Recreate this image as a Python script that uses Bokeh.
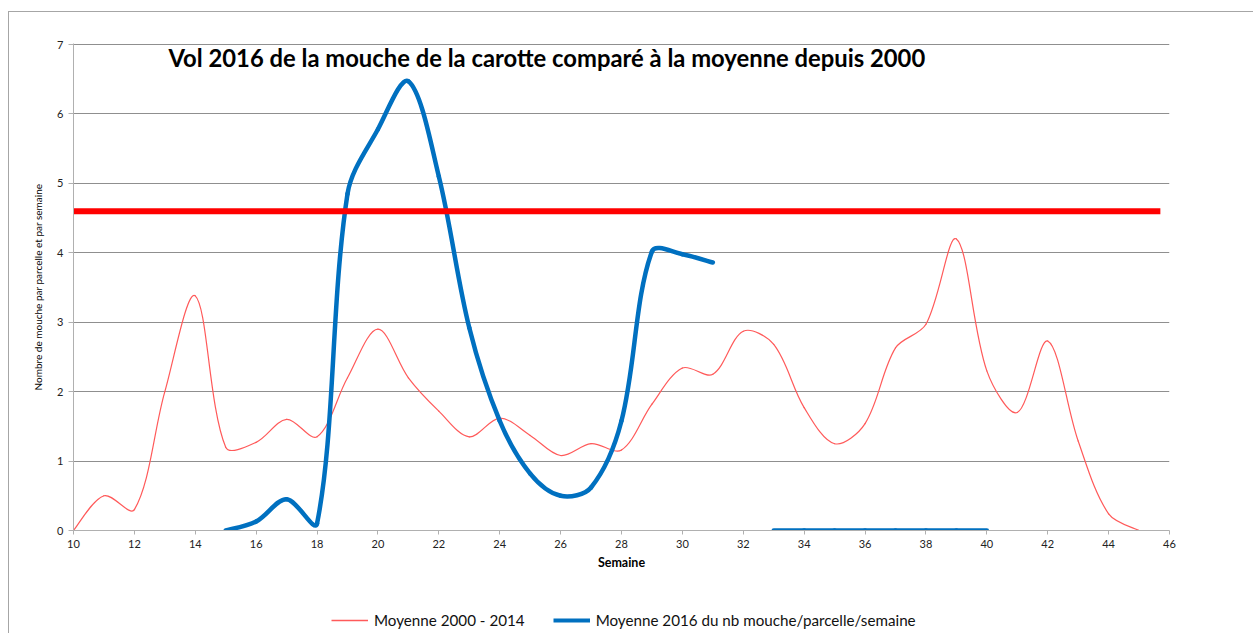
from bokeh.plotting import figure
from bokeh.layouts import column
from bokeh.models import Range1d, FixedTicker, Legend, LegendItem, Label, ColumnDataSource
from bokeh.embed import file_html
from bokeh.resources import INLINE
import math

# ---------------- data ----------------
TITLE = "Vol 2016 de la mouche de la carotte comparé à la moyenne depuis 2000"
X_LABEL = "Semaine"
Y_LABEL = "Nombre de mouche par parcelle et par semaine"
LABEL_AVG = "Moyenne 2000 - 2014"
LABEL_2016 = "Moyenne 2016 du nb mouche/parcelle/semaine"

avg_weeks = list(range(10, 46))
avg_values = [0.0, 0.5, 0.3, 2.0, 3.38, 1.2, 1.27, 1.6, 1.35, 2.2,
              2.9, 2.2, 1.72, 1.35, 1.62, 1.37, 1.08, 1.25, 1.16, 1.82,
              2.34, 2.25, 2.87, 2.68, 1.77, 1.25, 1.54, 2.63, 2.97, 4.2,
              2.3, 1.7, 2.73, 1.29, 0.24, 0.0]

y2016_weeks_a = list(range(15, 32))
y2016_values_a = [0.0, 0.13, 0.45, 0.1, 4.85, 5.78, 6.47, 5.1, 2.92, 1.58,
                  0.82, 0.5, 0.62, 1.58, 4.02, 3.98, 3.86]
y2016_weeks_b = list(range(33, 41))
y2016_values_b = [0, 0, 0, 0, 0, 0, 0, 0]

threshold_value = 4.6
threshold_start = 10
threshold_end = 45.7

x_ticks = list(range(10, 47, 2))
y_ticks = list(range(0, 8))

RED_THIN = "#FF5A5A"
BLUE = "#0070C0"
RED = "#FF0000"
FONT = "Lato"

# approximate screen scale, used only to weight the curve smoothing
PX_PER_X = 30.44
PX_PER_Y = 69.6


def smooth_segments(xs, ys):
    """Cubic Bezier segments, tangents weighted by screen chord lengths (Excel-like smoothing)."""
    n = len(xs)

    def dist(i, j):
        return math.hypot((xs[j] - xs[i]) * PX_PER_X, (ys[j] - ys[i]) * PX_PER_Y)

    before, after = [], []
    for i in range(n):
        a = max(i - 1, 0)
        b = min(i + 1, n - 1)
        tx, ty = xs[b] - xs[a], ys[b] - ys[a]
        d1 = dist(a, i) if i > 0 else 0.0
        d2 = dist(i, b) if i < n - 1 else 0.0
        if i == 0 or i == n - 1:
            f1 = f2 = 1.0 / 6.0
        else:
            s = d1 + d2 if d1 + d2 > 0 else 1.0
            f1 = d1 / s / 3.0
            f2 = d2 / s / 3.0
        before.append((xs[i] - tx * f1, ys[i] - ty * f1))
        after.append((xs[i] + tx * f2, ys[i] + ty * f2))

    d = dict(x0=[], y0=[], x1=[], y1=[], cx0=[], cy0=[], cx1=[], cy1=[])
    for i in range(n - 1):
        d["x0"].append(xs[i]); d["y0"].append(ys[i])
        d["x1"].append(xs[i + 1]); d["y1"].append(ys[i + 1])
        d["cx0"].append(after[i][0]); d["cy0"].append(after[i][1])
        d["cx1"].append(before[i + 1][0]); d["cy1"].append(before[i + 1][1])
    return ColumnDataSource(d)


p = figure(width=1244, height=578, output_backend="svg", toolbar_location=None,
           x_range=Range1d(10, 46), y_range=Range1d(0, 7.015),
           min_border_left=64, min_border_right=84, min_border_top=31,
           min_border_bottom=60)
p.outline_line_color = None
p.background_fill_color = "white"
p.border_fill_color = "white"

# grid
p.xgrid.grid_line_color = None
p.ygrid.ticker = FixedTicker(ticks=y_ticks)
p.ygrid.grid_line_color = "#8f8f8f"
p.ygrid.grid_line_width = 1

# axes
p.xaxis.ticker = FixedTicker(ticks=x_ticks)
p.yaxis.ticker = FixedTicker(ticks=y_ticks)
for ax in (p.xaxis[0], p.yaxis[0]):
    ax.axis_line_color = "#b0b0b0"
    ax.major_tick_line_color = "#b0b0b0"
    ax.minor_tick_line_color = None
    ax.major_tick_in = 0
    ax.major_label_text_font = FONT
    ax.major_label_text_font_size = "11px"
    ax.major_label_text_color = "#222222"
    ax.axis_label_text_font = FONT
    ax.axis_label_text_color = "#000000"
p.xaxis.major_tick_out = 4
p.yaxis.major_tick_out = 5
p.xaxis.major_label_standoff = 5
p.yaxis.major_label_standoff = 5
p.xaxis.axis_label = X_LABEL
p.xaxis.axis_label_text_font_size = "12.5px"
p.xaxis.axis_label_text_font_style = "bold"
p.xaxis.axis_label_standoff = 4
p.yaxis.axis_label = Y_LABEL
p.yaxis.axis_label_text_font_size = "10px"
p.yaxis.axis_label_text_font_style = "normal"
p.yaxis.axis_label_standoff = 10

# series
bez = dict(x0="x0", y0="y0", x1="x1", y1="y1", cx0="cx0", cy0="cy0", cx1="cx1", cy1="cy1")
p.bezier(source=smooth_segments(avg_weeks, avg_values),
         line_color=RED_THIN, line_width=1.2, line_cap="round", **bez)
p.bezier(source=smooth_segments(y2016_weeks_a, y2016_values_a),
         line_color=BLUE, line_width=4.5, line_cap="round", **bez)
p.bezier(source=smooth_segments(y2016_weeks_b, y2016_values_b),
         line_color=BLUE, line_width=4.5, line_cap="round", **bez)

# threshold
p.segment(x0=[threshold_start], y0=[threshold_value], x1=[threshold_end], y1=[threshold_value],
          line_color=RED, line_width=6)

# title inside the plot
p.add_layout(Label(x=13.12, y=6.81, text=TITLE, text_font=FONT, text_font_size="23.8px",
                   text_font_style="bold", text_baseline="middle", text_color="#000000"))

# legend strip below the chart (proxy renderers kept outside the strip's visible range)
lg = figure(width=1244, height=43, output_backend="svg", toolbar_location=None,
            x_range=Range1d(-2, -1), y_range=Range1d(-2, -1),
            min_border_left=64, min_border_right=84, min_border_top=0, min_border_bottom=0)
lg.xaxis.visible = False
lg.yaxis.visible = False
lg.xgrid.grid_line_color = None
lg.ygrid.grid_line_color = None
lg.outline_line_color = None
leg_red = lg.line(avg_weeks, avg_values, line_color=RED_THIN, line_width=1.5)
leg_blue = lg.line(y2016_weeks_a, y2016_values_a, line_color=BLUE, line_width=4)
legend = Legend(items=[LegendItem(label=LABEL_AVG, renderers=[leg_red]),
                       LegendItem(label=LABEL_2016, renderers=[leg_blue])],
                location=(258, 4), orientation="horizontal", padding=0, margin=0,
                spacing=28, glyph_width=37, glyph_height=16, label_height=16,
                label_standoff=6, label_text_font=FONT, label_text_font_size="15.2px",
                label_text_color="#111111",
                border_line_alpha=0, background_fill_alpha=0)
lg.add_layout(legend)

layout = column(p, lg, spacing=0)
layout.styles = {"margin-left": "8px", "margin-top": "11px",
                 "border-top": "1px solid #a6a6a6", "border-left": "1px solid #a6a6a6"}

open("out.html", "w").write(file_html(layout, INLINE))
